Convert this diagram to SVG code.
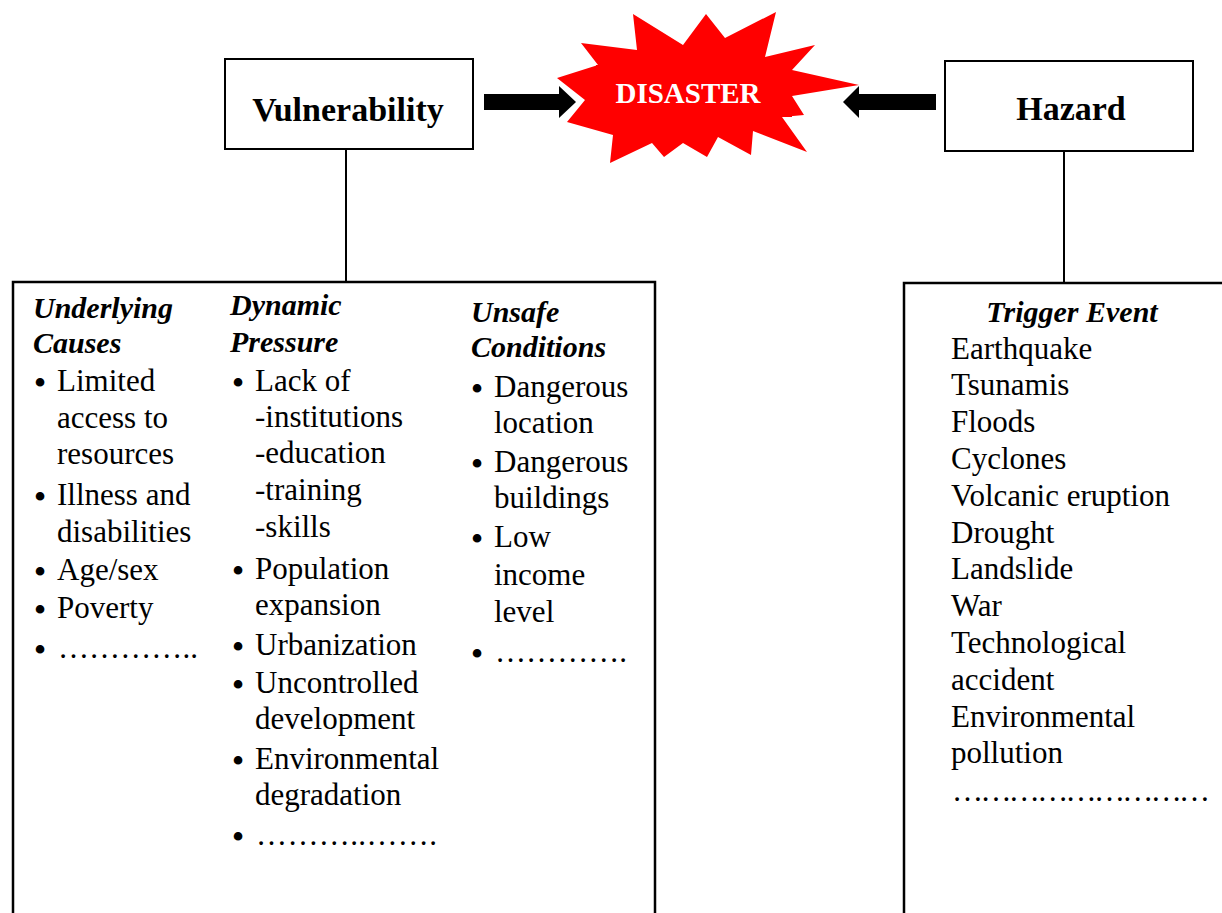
<svg xmlns="http://www.w3.org/2000/svg" width="1222" height="913" viewBox="0 0 1222 913">
<style>
.box{fill:#fff;stroke:#000;stroke-width:2}
.big{fill:#fff;stroke:#000;stroke-width:2.5}
.ttl{font-family:"Liberation Serif","Times New Roman",serif;font-weight:bold;font-size:34px;fill:#000}
.hd{font-family:"Liberation Serif","Times New Roman",serif;font-weight:bold;font-style:italic;font-size:30px;fill:#000}
.t{font-family:"Liberation Serif","Times New Roman",serif;font-size:31px;fill:#000}
.b{font-family:"Liberation Serif","Times New Roman",serif;font-size:36px;fill:#000;text-anchor:middle}
.ln{stroke:#000;stroke-width:2;fill:none}
</style>
<g id="connectors">
<line class="ln" x1="346" y1="149" x2="346" y2="282"/>
<line class="ln" x1="1064" y1="151" x2="1064" y2="283"/>
<polygon id="arrow-left" fill="#000" points="484,94 559,94 559,86 576,102 559,118 559,110 484,110"/>
<polygon id="arrow-right" fill="#000" points="936,94 859,94 859,86 843,102 859,118 859,110 936,110"/>
</g>
<g id="disaster">
<polygon fill="#ff0000" points="633,14 683,45 706,14 725,38 776,12 765,57 815,45 792,70 859,85 792,96 804,115 782,117 807,152 753,131 751,155 718,137 707,157 683,143 664,157 652,143 610,163 613,135 567,122 585,100 557,78 598,65 581,43 637,50"/>
<rect x="596" y="65" width="196" height="52" fill="#ff0000"/>
<text x="688" y="103" text-anchor="middle" font-family="Liberation Serif, Times New Roman, serif" font-weight="bold" font-size="29" fill="#fff">DISASTER</text>
</g>
<g id="vulnerability">
<rect class="box" x="225" y="59" width="248" height="90"/>
<text class="ttl" x="348" y="121" text-anchor="middle">Vulnerability</text>
</g>
<g id="hazard">
<rect class="box" x="945" y="61" width="248" height="90"/>
<text class="ttl" x="1071" y="120" text-anchor="middle">Hazard</text>
</g>
<g id="vulnerability-factors">
<rect class="big" x="13" y="282" width="642" height="640"/>
<text class="hd" x="33" y="318">Underlying</text>
<text class="hd" x="33" y="353">Causes</text>
<text class="b" x="40" y="395">•</text><text class="t" x="57" y="391">Limited</text>
<text class="t" x="57" y="428">access to</text>
<text class="t" x="57" y="464">resources</text>
<text class="b" x="40" y="509">•</text><text class="t" x="57" y="505">Illness and</text>
<text class="t" x="57" y="541.5">disabilities</text>
<text class="b" x="40" y="584">•</text><text class="t" x="57" y="580">Age/sex</text>
<text class="b" x="40" y="622">•</text><text class="t" x="57" y="618">Poverty</text>
<text class="b" x="40" y="662">•</text><text class="t" x="58" y="658" textLength="140" lengthAdjust="spacing">…………..</text>

<text class="hd" x="230" y="315">Dynamic</text>
<text class="hd" x="230" y="352">Pressure</text>
<text class="b" x="238" y="395">•</text><text class="t" x="255" y="391">Lack of</text>
<text class="t" x="255" y="427">-institutions</text>
<text class="t" x="255" y="463">-education</text>
<text class="t" x="255" y="500">-training</text>
<text class="t" x="255" y="537">-skills</text>
<text class="b" x="238" y="583">•</text><text class="t" x="255" y="579">Population</text>
<text class="t" x="255" y="615">expansion</text>
<text class="b" x="238" y="659">•</text><text class="t" x="255" y="655">Urbanization</text>
<text class="b" x="238" y="697">•</text><text class="t" x="255" y="693">Uncontrolled</text>
<text class="t" x="255" y="729">development</text>
<text class="b" x="238" y="773">•</text><text class="t" x="255" y="769">Environmental</text>
<text class="t" x="255" y="805">degradation</text>
<text class="b" x="238" y="849">•</text><text class="t" x="256" y="845" textLength="181" lengthAdjust="spacing">………..…….</text>

<text class="hd" x="471" y="322">Unsafe</text>
<text class="hd" x="471" y="357">Conditions</text>
<text class="b" x="477" y="401">•</text><text class="t" x="494" y="397">Dangerous</text>
<text class="t" x="494" y="433">location</text>
<text class="b" x="477" y="476">•</text><text class="t" x="494" y="472">Dangerous</text>
<text class="t" x="494" y="508">buildings</text>
<text class="b" x="477" y="551">•</text><text class="t" x="494" y="547">Low</text>
<text class="t" x="494" y="585">income</text>
<text class="t" x="494" y="622">level</text>
<text class="b" x="477" y="666">•</text><text class="t" x="495" y="662" textLength="132" lengthAdjust="spacing">………….</text>
</g>
<g id="trigger-event">
<rect class="big" x="904" y="283" width="330" height="640"/>
<text class="hd" x="1072" y="322" text-anchor="middle">Trigger Event</text>
<text class="t" x="951" y="358.5">Earthquake</text>
<text class="t" x="951" y="395.3">Tsunamis</text>
<text class="t" x="951" y="432.1">Floods</text>
<text class="t" x="951" y="468.9">Cyclones</text>
<text class="t" x="951" y="505.7">Volcanic eruption</text>
<text class="t" x="951" y="542.5">Drought</text>
<text class="t" x="951" y="579.3">Landslide</text>
<text class="t" x="951" y="616.1">War</text>
<text class="t" x="951" y="652.9">Technological</text>
<text class="t" x="951" y="689.7">accident</text>
<text class="t" x="951" y="726.5">Environmental</text>
<text class="t" x="951" y="763.3">pollution</text>
<text class="t" x="952" y="801" textLength="258" lengthAdjust="spacing">………………………</text>
</g>
</svg>
